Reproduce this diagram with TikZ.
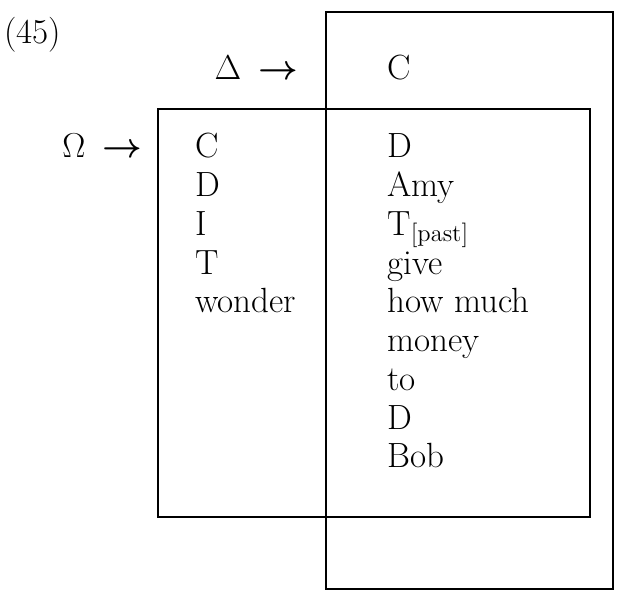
\documentclass[tikz,border=0pt]{standalone}
\usepackage{tikz}
\usetikzlibrary{positioning}

\begin{document}
\begin{tikzpicture}[x=0.5pt, y=-0.5pt,
  font=\fontsize{17.5}{20}\selectfont,
  word/.style={anchor=base west, inner sep=0pt},
  label/.style={anchor=base east, inner sep=0pt},
  box/.style={draw, line width=0.85pt}
]
\useasboundingbox (0,0) rectangle (621,603);

% Column positions
\def\xl{195} \def\xr{387} \def\gap{38.75}

% Boxes
\coordinate (dtl) at (326,12);  \coordinate (dbr) at (613,589);
\coordinate (otl) at (158,109); \coordinate (obr) at (590,517);
\draw[box] (dtl) rectangle (dbr);
\draw[box] (otl) rectangle (obr);

% Example number and phase labels
\node[word] (num) at (4,44) {(45)};
\node[label] (delta) at (299,80) {$\Delta$\enspace\mbox{\boldmath$\rightarrow$}};
\node[label] (omega) at (143,158) {$\Omega$\enspace\mbox{\boldmath$\rightarrow$}};

% Top C of the outer phase
\node[word] (ctop) at (\xr,80) {C};

% Left column
\foreach \w [count=\i from 0] in {C,D,I,T,wonder}
  \node[word] (l\i) at (\xl,158+\i*\gap) {\w};

% Right column
\foreach \w [count=\i from 0] in {D,Amy,{T\textsubscript{[past]}},give,how much,money,to,D,Bob}
  \node[word] (r\i) at (\xr,158+\i*\gap) {\w};
\end{tikzpicture}
\end{document}
